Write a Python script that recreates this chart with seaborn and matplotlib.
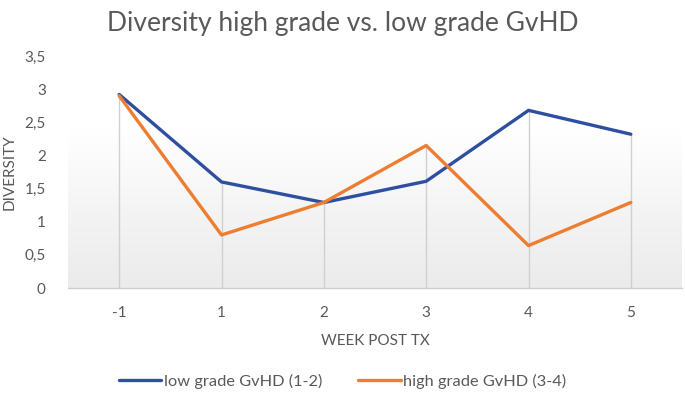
import numpy as np
import pandas as pd
import matplotlib
matplotlib.use("Agg")
import matplotlib.pyplot as plt
import seaborn as sns
from matplotlib.lines import Line2D

weeks = ["-1", "1", "2", "3", "4", "5"]
low_grade = [2.92, 1.60, 1.29, 1.61, 2.68, 2.32]
high_grade = [2.90, 0.80, 1.29, 2.15, 0.64, 1.29]
y_ticks = [0, 0.5, 1, 1.5, 2, 2.5, 3, 3.5]
y_tick_labels = ["0", "0,5", "1", "1,5", "2", "2,5", "3", "3,5"]
series_names = ["low grade GvHD (1-2)", "high grade GvHD (3-4)"]

sns.set_theme(style="white")
plt.rcParams['font.family'] = ['Lato', 'DejaVu Sans']

df = pd.DataFrame({
    "week": weeks * 2,
    "pos": list(range(len(weeks))) * 2,
    "diversity": low_grade + high_grade,
    "series": [series_names[0]] * len(weeks) + [series_names[1]] * len(weeks),
})

fig = plt.figure(figsize=(6.85, 3.98), dpi=100)
ax = fig.add_axes([68/685, 1-288/398, (682-68)/685, (288-56)/398])

# gradient background of plot area
grad = np.linspace(0, 1, 256).reshape(-1, 1)
ax.imshow(grad, extent=[0, 1, 0, 1], transform=ax.transAxes, aspect="auto",
          cmap=matplotlib.colors.LinearSegmentedColormap.from_list(
              "g", [(0, "#ebebeb"), (0.3, "#f3f3f3"), (0.68, "#ffffff"), (1, "#ffffff")]),
          origin="lower", zorder=0)

# drop lines
tops = np.maximum(low_grade, high_grade)
ax.vlines(range(len(weeks)), 0, tops, colors="#d0d0d0", linewidth=1.0, zorder=1)

sns.lineplot(data=df, x="pos", y="diversity", hue="series",
             palette=["#2E4FA0", "#ED7D31"], linewidth=2.4, ax=ax,
             legend=False, zorder=3)

ax.set_xlim(-0.5, len(weeks) - 0.5)
ax.set_ylim(0, 3.5)
ax.set_xticks(range(len(weeks)))
ax.set_xticklabels(weeks)
ax.set_yticks(y_ticks)
ax.set_yticklabels(y_tick_labels)
ax.tick_params(axis="both", length=0, colors="#595959", labelsize=11)
ax.tick_params(axis="x", pad=13)
ax.tick_params(axis="y", pad=16)
for s in ["top", "right", "left"]:
    ax.spines[s].set_visible(False)
ax.spines["bottom"].set_color("#d0d0d0")
ax.spines["bottom"].set_linewidth(1.0)

ax.set_xlabel("WEEK POST TX", color="#595959", fontsize=11, labelpad=10)
ax.set_ylabel("DIVERSITY", color="#595959", fontsize=11)
ax.yaxis.set_label_coords(-0.083, 0.5)

fig.text(0.5, 0.942, "Diversity high grade vs. low grade GvHD", ha="center",
         va="center", fontsize=19, color="#595959")

handles = [Line2D([], [], color="#2E4FA0", lw=2.4), Line2D([], [], color="#ED7D31", lw=2.4)]
fig.legend(handles, series_names, loc="center", bbox_to_anchor=(0.5, 0.042), ncol=2,
           frameon=False, fontsize=11.8, labelcolor="#595959", handlelength=2.6,
           handletextpad=0.15, columnspacing=2.2)

fig.savefig("out.png", dpi=100)
